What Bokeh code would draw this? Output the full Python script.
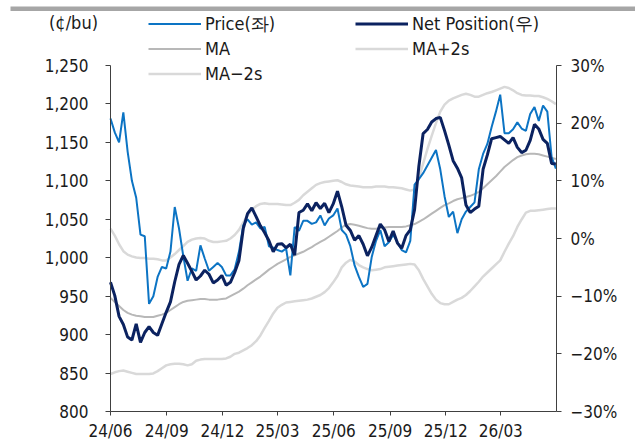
from datetime import datetime, timedelta
import pandas as pd
from bokeh.plotting import figure
from bokeh.models import (Range1d, LinearAxis, DatetimeAxis, FixedTicker, NumeralTickFormatter,
                          DatetimeTickFormatter, PrintfTickFormatter, Legend, LegendItem,
                          Label, BoxAnnotation)
from bokeh.embed import file_html
from bokeh.resources import INLINE

# ---------------- data ----------------
start_date = "2024-06-01"
n_weeks = 105
dates = pd.date_range(start_date, periods=n_weeks, freq="7D")

price = [1181, 1163, 1150, 1189, 1138, 1100, 1078, 1030, 1028, 940,
         950, 975, 988, 986, 1008, 1066, 1038, 1002, 970, 986,
         983, 1016, 999, 983, 988, 993, 988, 977, 977, 985,
         1008, 1042, 1050, 1043, 1046, 1038, 1040, 1015, 1013, 1010,
         1008, 1012, 977, 1040, 1035, 1048, 1048, 1044, 1046, 1055,
         1042, 1051, 1055, 1064, 1036, 1030, 1015, 990, 975, 962,
         966, 1001, 1022, 1036, 1015, 1020, 1030, 1020, 1010, 1007,
         1022, 1095, 1102, 1110, 1120, 1130, 1140, 1115, 1080, 1053,
         1060, 1032, 1050, 1060, 1066, 1072, 1115, 1135, 1148, 1170,
         1190, 1212, 1162, 1162, 1167, 1176, 1168, 1165, 1187, 1196,
         1178, 1198, 1190, 1131, 1116]

net_position = [-7.6, -9.9, -13.5, -14.9, -17.1, -17.6, -14.8, -18.0, -16.3, -15.3,
                -16.3, -16.8, -14.8, -12.8, -11.0, -7.5, -4.5, -2.95, -4.3, -5.7,
                -7.2, -6.5, -5.5, -6.2, -7.7, -7.2, -6.4, -8.1, -7.6, -5.9,
                -3.8, 1.7, 4.3, 5.3, 3.8, 2.2, 1.0, -0.4, -2.3, -1.0,
                -0.9, -1.6, -1.0, -2.9, 4.5, 4.9, 6.0, 4.8, 6.2, 5.2,
                6.1, 4.5, 6.0, 8.2, 5.5, 2.3, 1.4, -0.3, 0.5, -1.0,
                -3.0, -1.5, 0.5, 2.5, 1.5, -0.5, 1.3, -0.8, -1.7, 0.5,
                1.5, 5.0, 12.5, 18.2, 18.9, 20.2, 20.8, 21.0, 18.7, 16.2,
                13.5, 12.2, 10.5, 5.8, 4.5, 5.1, 5.6, 12.0, 14.5, 17.3,
                17.5, 17.7, 17.1, 16.5, 17.5, 15.8, 14.9, 15.3, 17.0, 19.8,
                19.0, 17.2, 16.5, 13.0, 12.9]

ma = [-10.3, -11.0, -11.7, -12.4, -12.9, -13.2, -13.4, -13.5, -13.6, -13.6,
      -13.6, -13.4, -13.2, -12.9, -12.4, -11.9, -11.4, -11.0, -10.8, -10.7,
      -10.6, -10.5, -10.5, -10.6, -10.6, -10.6, -10.5, -10.4, -10.0, -9.6,
      -9.2, -8.7, -8.1, -7.6, -7.1, -6.6, -6.0, -5.4, -4.9, -4.4,
      -4.0, -3.6, -3.2, -2.9, -2.6, -2.3, -1.9, -1.5, -1.0, -0.6,
      -0.2, 0.3, 0.8, 1.3, 1.9, 2.4, 2.5, 2.4, 2.2, 2.0,
      1.8, 1.7, 1.7, 1.8, 1.9, 2.0, 2.0, 2.0, 2.0, 2.1,
      2.3, 2.5, 2.9, 3.3, 3.8, 4.3, 4.8, 5.3, 5.8, 6.1,
      6.5, 6.8, 7.0, 7.2, 7.4, 7.7, 8.1, 8.7, 9.4, 10.1,
      10.8, 11.6, 12.4, 13.0, 13.6, 14.1, 14.4, 14.6, 14.7, 14.7,
      14.6, 14.4, 14.2, 14.0, 13.8]

ma_plus_2s = [1.7, 0.5, -1.0, -2.2, -2.8, -3.1, -3.3, -3.4, -3.4, -3.5,
              -3.5, -3.6, -3.8, -3.8, -3.3, -2.7, -2.0, -1.3, -0.6, -0.2,
              0.0, 0.1, 0.0, -0.4, -0.6, -0.6, -0.5, -0.4, 0.0, 0.6,
              1.5, 2.8, 4.0, 5.0, 5.6, 6.0, 6.1, 6.0, 6.0, 6.0,
              5.9, 5.8, 5.8, 6.2, 6.7, 7.5, 8.1, 8.7, 9.3, 9.6,
              9.8, 9.9, 10.0, 10.1, 9.8, 9.4, 9.2, 9.1, 9.0, 8.9,
              8.9, 8.9, 9.0, 9.0, 9.0, 8.9, 8.9, 8.8, 8.7, 8.5,
              8.3, 8.5, 10.5, 13.0, 15.5, 17.8, 20.0, 22.0, 23.2, 23.9,
              24.3, 24.6, 24.9, 25.1, 24.9, 24.6, 24.6, 24.9, 25.2, 25.4,
              25.7, 26.0, 26.3, 26.1, 25.7, 25.2, 24.9, 24.8, 24.8, 24.7,
              24.7, 24.5, 24.2, 23.8, 23.3]

ma_minus_2s = [-23.5, -23.2, -23.0, -22.9, -23.1, -23.3, -23.5, -23.5, -23.5, -23.5,
               -23.4, -23.0, -22.5, -22.0, -21.8, -21.7, -21.7, -21.8, -22.0, -21.8,
               -21.2, -21.0, -20.9, -20.9, -20.9, -20.9, -20.9, -20.8, -20.5, -20.0,
               -19.8, -19.4, -19.0, -18.5, -17.8, -16.8, -15.5, -14.3, -13.0, -12.0,
               -11.5, -11.1, -11.0, -10.9, -10.8, -10.7, -10.6, -10.4, -10.1, -9.8,
               -9.3, -8.6, -7.6, -6.5, -5.0, -4.2, -3.7, -4.0, -4.6, -5.0,
               -5.3, -5.5, -5.4, -5.3, -5.0, -4.9, -4.8, -4.7, -4.6, -4.5,
               -4.4, -4.5, -5.5, -7.0, -8.3, -9.6, -10.6, -11.2, -11.4, -11.4,
               -11.0, -10.6, -10.3, -9.8, -9.1, -8.3, -7.5, -6.6, -5.9, -5.2,
               -4.5, -3.8, -2.3, -0.9, 0.4, 2.0, 3.3, 4.5, 4.8, 4.8,
               4.9, 5.0, 5.1, 5.2, 5.2]

left_ticks = [800, 850, 900, 950, 1000, 1050, 1100, 1150, 1200, 1250]
right_ticks = [-30, -20, -10, 0, 10, 20, 30]
right_tick_labels = ["\u221230%", "\u221220%", "\u221210%", "0%", "10%", "20%", "30%"]
x_tick_dates = ["2024-06-01", "2024-09-01", "2024-12-01", "2025-03-01",
                "2025-06-01", "2025-09-01", "2025-12-01", "2026-03-01"]
x_tick_labels = ["24/06", "24/09", "24/12", "25/03", "25/06", "25/09", "25/12", "26/03"]

series_labels = ["Price(좌)", "Net Position(우)", "MA", "MA+2s", "MA\u22122s"]
unit_label = "(¢/bu)"

# ---------------- layout (pixels) ----------------
CW, CH = 635, 443                 # canvas == frame
AX_L, AX_R = 110, 556             # plot-area x extent
AX_T, AX_B = 65, 411              # plot-area y extent
x_lo = datetime(2024, 6, 1)
x_hi = datetime(2026, 5, 31)
left_lo, left_hi = 800, 1250
right_lo, right_hi = -30, 30

def extend(lo, hi, px_lo, px_hi, px_min, px_max):
    per = (hi - lo) / (px_hi - px_lo)
    return lo - (px_lo - px_min) * per, hi + (px_max - px_hi) * per

days = (x_hi - x_lo).days
d0, d1 = extend(0, days, AX_L, AX_R, 0, CW)
xr = Range1d(start=x_lo + timedelta(days=d0), end=x_lo + timedelta(days=d1))
l0, l1 = extend(left_lo, left_hi, CH - AX_B, CH - AX_T, 0, CH)
r0, r1 = extend(right_lo, right_hi, CH - AX_B, CH - AX_T, 0, CH)

# ---------------- style ----------------
FONT = "DejaVu Sans Condensed"
TXT = "#1a1a1a"
AX = "#404040"
C_PRICE = "#0C74C4"
C_NET = "#0B2260"
C_MA = "#B8B8B8"
C_BAND = "#D9D9D9"

p = figure(frame_width=CW, frame_height=CH, title=None,
           output_backend="svg", toolbar_location=None,
           x_axis_location=None, y_axis_location=None,
           x_range=xr, y_range=Range1d(l0, l1),
           min_border=0)
p.extra_y_ranges = {"pct": Range1d(r0, r1)}
p.xgrid.visible = False
p.ygrid.visible = False
p.outline_line_color = None
p.background_fill_color = "white"
p.border_fill_color = "white"

# lines
r_dn = p.line(dates, ma_minus_2s, y_range_name="pct", line_color=C_BAND, line_width=2.5)
r_up = p.line(dates, ma_plus_2s, y_range_name="pct", line_color=C_BAND, line_width=2.5)
r_ma = p.line(dates, ma, y_range_name="pct", line_color=C_MA, line_width=2)
r_price = p.line(dates, price, line_color=C_PRICE, line_width=2)
r_net = p.line(dates, net_position, y_range_name="pct", line_color=C_NET, line_width=3)

def style_axis(ax, size):
    ax.axis_line_color = AX
    ax.axis_line_width = 1
    ax.major_tick_line_color = AX
    ax.minor_tick_line_color = None
    ax.major_tick_in = 0
    ax.major_label_text_font = FONT
    ax.major_label_text_font_size = size
    ax.major_label_text_color = TXT

x_lo_ms = pd.Timestamp(x_lo).value / 1e6
x_hi_ms = pd.Timestamp(x_hi).value / 1e6

# left axis
yl = LinearAxis(ticker=FixedTicker(ticks=left_ticks),
                formatter=NumeralTickFormatter(format="0,0"),
                bounds=(left_lo, left_hi), fixed_location=x_lo_ms)
style_axis(yl, "17px")
yl.major_tick_out = 5
yl.major_label_standoff = 17
p.add_layout(yl, "left")

# right axis
yr = LinearAxis(y_range_name="pct", ticker=FixedTicker(ticks=right_ticks),
                formatter=PrintfTickFormatter(format="%d%%"),
                bounds=(right_lo, right_hi), fixed_location=x_hi_ms)
yr.major_label_overrides = {t: lab for t, lab in zip(right_ticks, right_tick_labels)}
style_axis(yr, "17px")
yr.major_tick_out = 5
yr.major_label_standoff = 9
p.add_layout(yr, "right")

# bottom axis
tick_ms = [pd.Timestamp(d).value / 1e6 for d in x_tick_dates]
xa = DatetimeAxis(ticker=FixedTicker(ticks=tick_ms),
                  formatter=DatetimeTickFormatter(months="%y/%m", days="%y/%m", years="%y/%m"),
                  bounds=(x_lo_ms, x_hi_ms), fixed_location=left_lo)
xa.major_label_overrides = {t: lab for t, lab in zip(tick_ms, x_tick_labels)}
style_axis(xa, "17px")
xa.major_tick_out = 4
xa.major_label_standoff = 5
p.add_layout(xa, "below")

# legends (two columns); location = bottom-left corner, y up from canvas bottom
common = dict(orientation="vertical", padding=0, spacing=0, margin=0,
              glyph_width=53, glyph_height=25, label_height=25, label_standoff=4,
              label_text_font=FONT, label_text_font_size="18px", label_text_color=TXT,
              background_fill_alpha=0, border_line_alpha=0)
leg1 = Legend(items=[LegendItem(label=series_labels[0], renderers=[r_price]),
                     LegendItem(label=series_labels[2], renderers=[r_ma]),
                     LegendItem(label=series_labels[4], renderers=[r_dn])],
              location=(148, CH - 86), **common)
leg2 = Legend(items=[LegendItem(label=series_labels[1], renderers=[r_net]),
                     LegendItem(label=series_labels[3], renderers=[r_up])],
              location=(355, CH - 61), **common)
p.add_layout(leg1)
p.add_layout(leg2)

# unit label
p.add_layout(Label(x=73, y=CH - 22, x_units="screen", y_units="screen", text=unit_label,
                   text_align="center", text_baseline="middle", text_font=FONT,
                   text_font_size="18px", text_color=TXT))

# grey header bar
p.add_layout(BoxAnnotation(left=10, left_units="screen", right=CW + 5, right_units="screen",
                           top=CH - 6, top_units="screen", bottom=CH - 10.5, bottom_units="screen",
                           fill_color="#A6A6A6", fill_alpha=1, line_color=None))

open("out.html", "w").write(file_html(p, INLINE))
